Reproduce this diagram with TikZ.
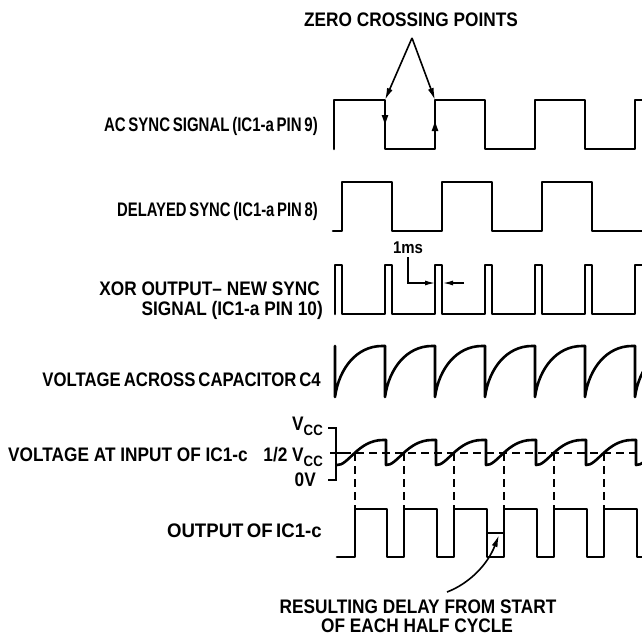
\documentclass[tikz,border=0pt]{standalone}
\usepackage{fontspec}
\usepackage{graphicx}
\setmainfont{Liberation Sans}[FakeStretch=0.88]
\usetikzlibrary{arrows.meta}
\newcommand{\lblfont}{\fontsize{19.6}{21}\selectfont\bfseries}
\newcommand{\myvcc}{V\raisebox{-5pt}{\fontsize{15}{15}\selectfont CC}}
\newcommand{\hsq}[2]{\scalebox{#1}[1]{\spaceskip=0.16em\relax #2}}
\begin{document}
\begin{tikzpicture}[x=1pt,y=-1pt,
  sig/.style={line width=2.6pt,line join=round,line cap=round},
  lbl/.style={font=\lblfont,inner sep=0pt,anchor=base east},
  clbl/.style={font=\lblfont,inner sep=0pt,anchor=base},
  dsh/.style={line width=2pt,dash pattern=on 8pt off 5pt},
  ptr/.style={line width=1.6pt,-{Latex[length=12pt,width=6pt]}},
  thinarr/.style={line width=1.3pt,-{Latex[length=10pt,width=5pt]}},
  scl/.style={line width=2pt}]
\useasboundingbox (0,0) rectangle (642,635);
% ---------------- labels ----------------
\node[clbl] (zc) at (411,26) {ZERO CROSSING POINTS};
\node[lbl] (l1) at (318,131.5) {\hsq{0.87}{AC SYNC SIGNAL (IC1-a PIN 9)}};
\node[lbl] (l2) at (318,216.5) {\hsq{0.86}{DELAYED SYNC (IC1-a PIN 8)}};
\node[lbl] (l3a) at (320,295) {XOR OUTPUT– NEW SYNC};
\node[lbl] (l3b) at (323,315) {SIGNAL (IC1-a PIN 10)};
\node[lbl] (l4) at (321,386) {\hsq{0.97}{VOLTAGE ACROSS CAPACITOR C4}};
\node[lbl] (l5) at (248,461) {VOLTAGE AT INPUT OF IC1-c};
\node[lbl] (vh) at (323,461) {1/2 \myvcc};
\node[lbl] (vt) at (323,430) {\myvcc};
\node[lbl] (v0) at (316,486.5) {0V};
\node[lbl] (l6) at (322,537) {\hsq{1.08}{OUTPUT OF IC1-c}};
\node[clbl] (r1) at (418,613) {RESULTING DELAY FROM START};
\node[clbl] (r2) at (417,632) {OF EACH HALF CYCLE};
\node[clbl,font=\fontsize{17}{18}\selectfont\bfseries] (ms) at (408,253) {1ms};
% ---------------- signals ----------------
\begin{scope}
\clip (0,0) rectangle (642,635);
% AC sync
\draw[sig] (334,149) -- (334,100) -- (385,100) -- (385,149) -- (435,149) -- (435,100) -- (485,100) -- (485,149) -- (535,149) -- (535,100) -- (585,100) -- (585,149) -- (635,149) -- (635,100) -- (648,100);
% delayed sync
\draw[sig] (333,231) -- (342,231) -- (342,182) -- (392,182) -- (392,231) -- (442,231) -- (442,182) -- (492,182) -- (492,231) -- (542,231) -- (542,182) -- (592,182) -- (592,231) -- (648,231);
% XOR output
\draw[sig] (335,314) -- (335,265) -- (342,265) -- (342,314) -- (385,314) -- (385,265) -- (392,265) -- (392,314) -- (435,314) -- (435,265) -- (442,265) -- (442,314) -- (485,314) -- (485,265) -- (492,265) -- (492,314) -- (535,314) -- (535,265) -- (542,265) -- (542,314) -- (585,314) -- (585,265) -- (592,265) -- (592,314) -- (635,314) -- (635,265) -- (648,265);
% capacitor voltage
\foreach \x in {335,385,...,635} {
  \draw[sig] (\x,346) -- (\x,397) .. controls (\x+4,368) and (\x+22,346) .. (\x+47,346) -- (\x+50,346);
}
% input of IC1-c
\draw[sig] (337,465) .. controls (348,466) and (358,440) .. (383,440) -- (386,440);
\foreach \x in {386,436,...,636} {
  \draw[sig] (\x,440) -- (\x,465) .. controls (\x+11,466) and (\x+21,440) .. (\x+46,440) -- (\x+50,440);
}
\draw[dsh] (343,453) -- (648,453);
\foreach \x in {355,404,454,504,554,604} {
  \draw[dsh] (\x,453) -- (\x,509);
}
% output of IC1-c
\draw[sig] (337,557) -- (355,557) -- (355,509) -- (387,509) -- (387,557) -- (404,557) -- (404,509) -- (437,509) -- (437,557) -- (454,557) -- (454,509) -- (487,509) -- (487,557) -- (504,557) -- (504,509) -- (537,509) -- (537,557) -- (554,557) -- (554,509) -- (587,509) -- (587,557) -- (604,557) -- (604,509) -- (637,509) -- (637,557) -- (648,557);
\end{scope}
% ---------------- scale ----------------
\draw[scl] (328,428) -- (336,428) -- (336,481);
\draw[scl] (330,453) -- (343,453);
\draw[scl] (328,480) -- (336,480);
% ---------------- annotations ----------------
\coordinate (apex) at (412,38);
\coordinate (zc1) at (385,100);
\coordinate (zc2) at (435,100);
\draw[ptr] (apex) -- (zc1);
\draw[ptr] (apex) -- (zc2);
\coordinate (d1a) at (385,110);
\coordinate (d1b) at (385,126);
\coordinate (d2a) at (435,136);
\coordinate (d2b) at (435,120);
\draw[line width=1.2pt,-{Latex[length=11pt,width=7pt]}] (d1a) -- (d1b);
\draw[line width=1.2pt,-{Latex[length=11pt,width=7pt]}] (d2a) -- (d2b);
\coordinate (p1) at (435,283);
\coordinate (p2) at (443,283);
\coordinate (q2) at (464,283);
\draw[thinarr] ([yshift=-4pt]ms.south) |- (p1);
\draw[thinarr] (q2) -- (p2);
\coordinate (rs) at (447,592);
\coordinate (rt) at (499,535);
\draw[ptr] (rs) .. controls (468,584) and (487,566) .. (rt);
\coordinate (m1) at (487,533);
\coordinate (m2) at (504,533);
\draw[line width=1.5pt] (m1) -- (m2);
\end{tikzpicture}
\end{document}
